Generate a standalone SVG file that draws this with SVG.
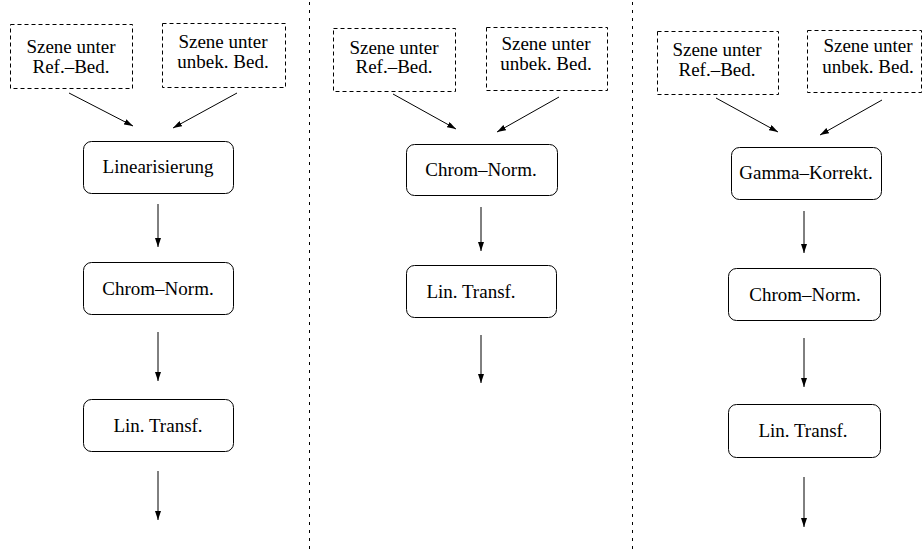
<svg xmlns="http://www.w3.org/2000/svg" width="922" height="554" viewBox="0 0 922 554">
<style>
  .bg{fill:#fff}
  .src{fill:#fff;stroke:#000;stroke-width:1;stroke-dasharray:4 3}
  .box{fill:#fff;stroke:#000;stroke-width:1}
  text{font-family:'Liberation Serif','DejaVu Serif',serif;font-size:19px;fill:#000;text-anchor:middle}
  .c{stroke:#000;stroke-width:1;fill:none;marker-end:url(#ah)}
  .div{stroke:#000;stroke-width:1;stroke-dasharray:3 5}
</style>
<defs>
  <marker id="ah" markerUnits="userSpaceOnUse" markerWidth="9" markerHeight="6" refX="9" refY="3" orient="auto">
    <path d="M0,0 L9,3 L0,6 z" fill="#000"/>
  </marker>
</defs>
<rect class="bg" x="0" y="0" width="922" height="554"/>
<g id="dividers">
  <line class="div" x1="309.5" y1="2" x2="309.5" y2="554"/>
  <line class="div" x1="632.5" y1="2" x2="632.5" y2="554"/>
</g>
<g id="p1-src1"><rect class="src" x="10.5" y="24.5" width="122" height="64"/><text x="71" y="53">Szene unter</text><text x="71" y="73">Ref.–Bed.</text></g>
<g id="p1-src2"><rect class="src" x="162.5" y="23.5" width="123" height="64"/><text x="223" y="48">Szene unter</text><text x="223" y="68">unbek. Bed.</text></g>
<g id="p1-lin"><rect class="box" x="83.5" y="141.5" width="150" height="52" rx="8"/><text x="158" y="173">Linearisierung</text></g>
<g id="p1-chrom"><rect class="box" x="83.5" y="262.5" width="150" height="52" rx="8"/><text x="158" y="295">Chrom–Norm.</text></g>
<g id="p1-trans"><rect class="box" x="83.5" y="399.5" width="150" height="52" rx="8"/><text x="158" y="432">Lin. Transf.</text></g>

<g id="p2-src1"><rect class="src" x="333.5" y="28.5" width="122" height="63"/><text x="394" y="54">Szene unter</text><text x="394" y="73">Ref.–Bed.</text></g>
<g id="p2-src2"><rect class="src" x="486.5" y="27.5" width="121" height="63"/><text x="546" y="50">Szene unter</text><text x="546" y="70">unbek. Bed.</text></g>
<g id="p2-chrom"><rect class="box" x="406.5" y="144.5" width="151" height="51" rx="8"/><text x="481" y="176">Chrom–Norm.</text></g>
<g id="p2-trans"><rect class="box" x="406.5" y="265.5" width="150" height="52" rx="8"/><text x="471" y="298">Lin. Transf.</text></g>

<g id="p3-src1"><rect class="src" x="657.5" y="31.5" width="121" height="63"/><text x="717" y="56">Szene unter</text><text x="717" y="76">Ref.–Bed.</text></g>
<g id="p3-src2"><rect class="src" x="807.5" y="30.5" width="114" height="62"/><text x="868" y="52">Szene unter</text><text x="868" y="73">unbek. Bed.</text></g>
<g id="p3-gamma"><rect class="box" x="731.5" y="147.5" width="150" height="52" rx="8"/><text x="806" y="179">Gamma–Korrekt.</text></g>
<g id="p3-chrom"><rect class="box" x="728.5" y="268.5" width="152" height="52" rx="8"/><text x="805" y="301">Chrom–Norm.</text></g>
<g id="p3-trans"><rect class="box" x="728.5" y="404.5" width="152" height="53" rx="8"/><text x="803" y="437">Lin. Transf.</text></g>

<g id="connectors">
  <line class="c" x1="69" y1="93" x2="133" y2="126"/>
  <line class="c" x1="237" y1="93" x2="173" y2="128"/>
  <line class="c" x1="158" y1="204" x2="158" y2="247"/>
  <line class="c" x1="158" y1="332" x2="158" y2="381"/>
  <line class="c" x1="158" y1="471" x2="158" y2="520"/>

  <line class="c" x1="393" y1="94" x2="456" y2="129"/>
  <line class="c" x1="559" y1="97" x2="497" y2="132"/>
  <line class="c" x1="481" y1="207" x2="481" y2="251"/>
  <line class="c" x1="481" y1="335" x2="481" y2="383"/>

  <line class="c" x1="716" y1="98" x2="778" y2="132"/>
  <line class="c" x1="882" y1="100" x2="820" y2="135"/>
  <line class="c" x1="804" y1="211" x2="804" y2="253"/>
  <line class="c" x1="804" y1="338" x2="804" y2="387"/>
  <line class="c" x1="804" y1="477" x2="804" y2="527"/>
</g>
</svg>
